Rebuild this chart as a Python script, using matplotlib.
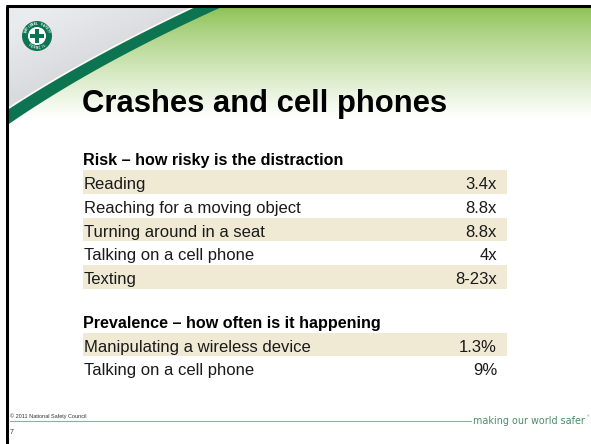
import numpy as np
import matplotlib
matplotlib.use("Agg")
import matplotlib.pyplot as plt
from matplotlib.patches import Polygon, Circle, Rectangle

plt.rcParams["font.family"] = ["Liberation Sans", "DejaVu Sans"]

# slide content
title = "Crashes and cell phones"
risk_header = "Risk \u2013 how risky is the distraction"
risk_labels = ["Reading", "Reaching for a moving object", "Turning around in a seat",
               "Talking on a cell phone", "Texting"]
risk_values = ["3.4x", "8.8x", "8.8x", "4x", "8-23x"]
prev_header = "Prevalence \u2013 how often is it happening"
prev_labels = ["Manipulating a wireless device", "Talking on a cell phone"]
prev_values = ["1.3%", "9%"]
footer_left = "\u00a9 2011 National Safety Council"
slide_number = "7"
tagline = "making our world safer"

W, H = 591, 444
fig = plt.figure(figsize=(W / 100, H / 100), dpi=100)
ax = fig.add_axes([0, 0, 1, 1])
ax.set_xlim(0, W)
ax.set_ylim(H, 0)
ax.axis("off")


def bezier(p0, c, p2, n=80):
    t = np.linspace(0, 1, n)[:, None]
    return (1 - t) ** 2 * np.array(p0) + 2 * (1 - t) * t * np.array(c) + t ** 2 * np.array(p2)


# green header gradient
top, bot = 6, 118
ys = np.linspace(0, 1, 200)[:, None]
t = np.clip(ys, 0, 1) ** 0.85
green = np.array([138, 192, 80]) / 255
grad = (1 - t)[:, :, None] * green + t[:, :, None] * np.ones(3)
grad = np.repeat(grad, 2, axis=1)
ax.imshow(grad, extent=(0, W, bot, top), aspect="auto", zorder=0, interpolation="bilinear")

# swoosh curves
upper = bezier((6, 111), (85, 59), (198, 6))
lower = bezier((6, 126), (95, 64), (224, 6))

# grey corner with soft gradient
gx, gy = np.meshgrid(np.linspace(0, 1, 100), np.linspace(0, 1, 100))
g = 0.92 - 0.10 * np.clip((gx * 0.8 + gy) - 0.2, 0, 1)
grey = np.dstack([g, g + 0.005, g + 0.015])
im = ax.imshow(grey, extent=(6, 200, 115, 6), aspect="auto", zorder=1, interpolation="bilinear")
corner = Polygon(np.vstack([[[6, 6]], upper[::-1]]), closed=True, facecolor="none",
                 edgecolor="none", transform=ax.transData)
ax.add_patch(corner)
im.set_clip_path(corner)

# white highlight and dark green band
ax.plot(upper[:, 0], upper[:, 1] - 1.2, color="white", lw=1.0, zorder=2)
band = Polygon(np.vstack([upper, lower[::-1]]), closed=True, facecolor="#0d7452",
               edgecolor="none", zorder=3)
ax.add_patch(band)

# slide borders
ax.plot([6, W], [6, 6], color="black", lw=2.2, zorder=5, solid_capstyle="butt")
ax.plot([7, 7], [6, H], color="black", lw=2.2, zorder=4, solid_capstyle="butt")
ax.add_patch(Rectangle((0, 0), 5.5, H, facecolor="white", edgecolor="none", zorder=6))
ax.add_patch(Rectangle((0, 0), W, 5, facecolor="white", edgecolor="none", zorder=6))

# logo
cx, cy, r = 37, 36, 15
ax.add_patch(Circle((cx, cy), r, facecolor="#0d7452", edgecolor="none", zorder=7))
ax.add_patch(Circle((cx, cy), r * 0.6, facecolor="white", edgecolor="none", zorder=8))
arm, half = r * 0.44, r * 0.15
ax.add_patch(Rectangle((cx - half, cy - arm), 2 * half, 2 * arm, facecolor="#0d7452",
                       edgecolor="none", zorder=9))
ax.add_patch(Rectangle((cx - arm, cy - half), 2 * arm, 2 * half, facecolor="#0d7452",
                       edgecolor="none", zorder=9))
rr = r * 0.8
top_txt = "NATIONAL SAFETY"
for i, ch in enumerate(top_txt):
    a = np.deg2rad(200 + i * 140 / (len(top_txt) - 1))
    ax.text(cx + rr * np.cos(a), cy + rr * np.sin(a), ch, fontsize=2.2, color="white",
            weight="bold", ha="center", va="center",
            rotation=-np.rad2deg(a) - 90, zorder=10)
bot_txt = "COUNCIL"
for i, ch in enumerate(bot_txt):
    a = np.deg2rad(130 - i * 80 / (len(bot_txt) - 1))
    ax.text(cx + rr * np.cos(a), cy + rr * np.sin(a), ch, fontsize=2.2, color="white",
            weight="bold", ha="center", va="center",
            rotation=-np.rad2deg(a) + 90, zorder=10)

# title
ax.text(82, 112, title, fontsize=22.3, weight="bold", color="black", va="baseline", zorder=10)

# tables
x0, x1, xv = 83, 507, 497
row_h = 23.8
shade = "#f0ead5"


def draw_section(header, labels, values, y_top):
    ax.text(x0, y_top - 5, header, fontsize=11.6, weight="bold", va="baseline", zorder=10)
    for i, (lab, val) in enumerate(zip(labels, values)):
        yt = y_top + i * row_h
        if i % 2 == 0:
            ax.add_patch(Rectangle((x0, yt), x1 - x0, row_h, facecolor=shade,
                                   edgecolor="none", zorder=2))
        ax.text(x0 + 1, yt + 19, lab, fontsize=12, va="baseline", color="#1a1a1a", zorder=10)
        ax.text(xv, yt + 19, val, fontsize=12, va="baseline", ha="right", color="#1a1a1a",
                zorder=10)


draw_section(risk_header, risk_labels, risk_values, 170)
draw_section(prev_header, prev_labels, prev_values, 332.5)

# footer
ax.text(10, 418, footer_left, fontsize=4, color="#333333", va="baseline")
ax.text(10, 434, slide_number, fontsize=5, color="#333333", va="baseline")
ax.plot([10, 471], [421, 421], color="#8fae9c", lw=0.8)
ax.text(473, 421, tagline, fontsize=6.9, color="#4a8d66", va="center",
        family=["DejaVu Sans"])
ax.text(586.5, 416.5, "\u00ae", fontsize=2.5, color="#4a8d66", va="center")

fig.savefig("out.png", dpi=100)
plt.close(fig)
